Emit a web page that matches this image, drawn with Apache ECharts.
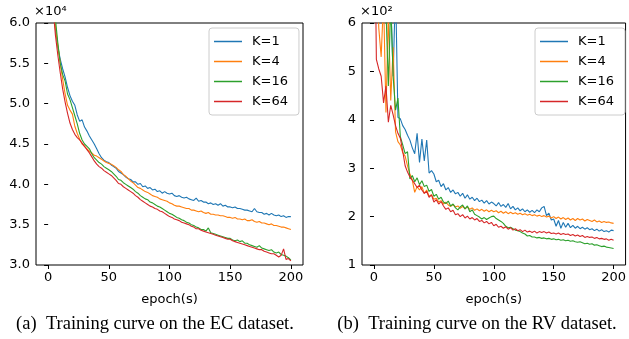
<!DOCTYPE html>
<html>
<head>
<meta charset="utf-8">
<script src="https://cdn.jsdelivr.net/npm/echarts@6/dist/echarts.min.js"></script>
<style>
  html, body { margin: 0; padding: 0; background: #fff; }
  #chart { width: 629px; height: 339px; }
</style>
</head>
<body>
<div id="chart"></div>
<script>
// epochs 0..200, every second epoch
const epochs = [];
for (let e = 0; e <= 200; e += 2) epochs.push(e);

const seriesNames = ['K=1', 'K=4', 'K=16', 'K=64'];
const xTicks = [0, 50, 100, 150, 200];

// (a) EC dataset, units of 1e4
const ecK1 = [
  7.6, 6.8, 6.25, 5.92, 5.70, 5.55, 5.43, 5.33, 5.20, 5.10,
  5.03, 4.98, 4.86, 4.78, 4.80, 4.71, 4.66, 4.60, 4.55, 4.50,
  4.44, 4.38, 4.33, 4.30, 4.28, 4.27, 4.24, 4.22, 4.20, 4.16,
  4.14, 4.12, 4.09, 4.07, 4.06, 4.03, 4.03, 4.00, 4.01, 3.97,
  3.98, 3.95, 3.96, 3.93, 3.94, 3.91, 3.92, 3.89, 3.91, 3.89,
  3.88, 3.89, 3.86, 3.85, 3.86, 3.84, 3.83, 3.84, 3.82, 3.81,
  3.80, 3.83, 3.79, 3.80, 3.78, 3.78, 3.76, 3.77, 3.75, 3.76,
  3.74, 3.76, 3.73, 3.74, 3.72, 3.72, 3.71, 3.72, 3.70, 3.70,
  3.69, 3.68, 3.68, 3.67, 3.66, 3.70, 3.66, 3.65, 3.65, 3.63,
  3.64, 3.62, 3.64, 3.62, 3.61, 3.62, 3.60, 3.61, 3.59, 3.60,
  3.60
];
const ecK4 = [
  7.7, 6.9, 6.3, 5.95, 5.72, 5.50, 5.30, 5.12, 4.98, 4.92,
  4.87, 4.72, 4.63, 4.56, 4.50, 4.47, 4.44, 4.41, 4.39, 4.36,
  4.35, 4.33, 4.31, 4.29, 4.27, 4.26, 4.25, 4.23, 4.21, 4.18,
  4.16, 4.12, 4.10, 4.07, 4.04, 4.02, 3.99, 3.96, 3.95, 3.93,
  3.91, 3.90, 3.88, 3.86, 3.85, 3.84, 3.82, 3.81, 3.80, 3.79,
  3.77, 3.76, 3.74, 3.73, 3.73, 3.72, 3.71, 3.70, 3.70, 3.68,
  3.68, 3.67, 3.66, 3.67, 3.65, 3.64, 3.65, 3.63, 3.63, 3.62,
  3.62, 3.61, 3.61, 3.60, 3.59, 3.59, 3.58, 3.59, 3.57, 3.57,
  3.56, 3.57, 3.55, 3.55, 3.56, 3.54, 3.53, 3.54, 3.52, 3.52,
  3.51, 3.50, 3.51, 3.49, 3.49, 3.48, 3.47, 3.47, 3.46, 3.45,
  3.44
];
const ecK16 = [
  7.8, 7.0, 6.4, 6.05, 5.75, 5.50, 5.36, 5.28, 5.12, 5.05,
  4.95, 4.85, 4.75, 4.63, 4.55, 4.50, 4.47, 4.44, 4.38, 4.33,
  4.30, 4.27, 4.25, 4.22, 4.20, 4.18, 4.16, 4.13, 4.10, 4.06,
  4.05, 4.02, 4.00, 3.98, 3.96, 3.94, 3.91, 3.89, 3.86, 3.84,
  3.82, 3.81, 3.78, 3.77, 3.75, 3.73, 3.72, 3.70, 3.68, 3.66,
  3.64, 3.63, 3.61, 3.59, 3.58, 3.56, 3.55, 3.53, 3.52, 3.50,
  3.49, 3.47, 3.46, 3.44, 3.44, 3.42, 3.46, 3.40, 3.39, 3.38,
  3.37, 3.36, 3.35, 3.34, 3.33, 3.33, 3.31, 3.30, 3.31, 3.29,
  3.30, 3.27, 3.27, 3.25, 3.24, 3.23, 3.22, 3.24, 3.21, 3.20,
  3.19, 3.18, 3.19, 3.16, 3.15, 3.16, 3.13, 3.12, 3.11, 3.09,
  3.06
];
const ecK64 = [
  7.5, 6.7, 6.2, 5.85, 5.60, 5.38, 5.18, 5.02, 4.88, 4.76,
  4.68, 4.62, 4.58, 4.55, 4.51, 4.47, 4.43, 4.39, 4.34, 4.29,
  4.25, 4.22, 4.20, 4.17, 4.15, 4.13, 4.11, 4.08, 4.05, 4.01,
  4.00, 3.97, 3.95, 3.93, 3.91, 3.89, 3.86, 3.84, 3.81, 3.79,
  3.77, 3.75, 3.73, 3.72, 3.70, 3.69, 3.67, 3.66, 3.64, 3.62,
  3.60, 3.59, 3.57, 3.56, 3.55, 3.53, 3.52, 3.51, 3.50, 3.48,
  3.47, 3.45, 3.45, 3.43, 3.42, 3.41, 3.40, 3.39, 3.38, 3.37,
  3.36, 3.35, 3.34, 3.33, 3.32, 3.32, 3.30, 3.29, 3.28, 3.27,
  3.26, 3.25, 3.24, 3.23, 3.22, 3.21, 3.20, 3.19, 3.19, 3.17,
  3.16, 3.15, 3.14, 3.14, 3.12, 3.10, 3.12, 3.20, 3.07, 3.08,
  3.05
];

// (b) RV dataset, units of 1e2
const rvK1 = [
  9.0, 8.6, 8.0, 7.8, 7.5, 7.0, 6.8, 6.5, 4.9, 6.8,
  4.05, 4.02, 3.88, 3.80, 3.68, 3.58, 3.42, 3.30, 3.72, 3.12,
  3.60, 3.15, 3.58, 2.90, 2.95, 2.88, 2.72, 2.75, 2.62, 2.68,
  2.55, 2.60, 2.50, 2.55, 2.47, 2.50, 2.42, 2.48, 2.38, 2.45,
  2.36, 2.40, 2.33, 2.38, 2.31, 2.34, 2.28, 2.33, 2.26, 2.30,
  2.27, 2.22, 2.29, 2.21, 2.25, 2.19, 2.27, 2.16, 2.21, 2.14,
  2.18, 2.12, 2.16, 2.10, 2.14, 2.09, 2.13, 2.08, 2.14, 2.10,
  2.18, 2.21, 2.02, 2.07, 1.93, 1.95, 1.80, 1.92, 1.76, 1.88,
  1.78, 1.86, 1.77, 1.82, 1.76, 1.80, 1.75, 1.78, 1.74, 1.77,
  1.73, 1.75, 1.71, 1.74, 1.70, 1.73, 1.69, 1.71, 1.68, 1.72,
  1.71
];
const rvK4 = [
  9.5, 7.5, 5.9, 5.3, 6.5, 4.15, 6.2, 4.4, 5.5, 3.75,
  3.55, 3.48, 3.32, 3.25, 3.05, 2.88, 2.75, 2.50, 2.62, 2.55,
  2.62, 2.48, 2.55, 2.42, 2.45, 2.36, 2.38, 2.30, 2.33, 2.26,
  2.30, 2.24, 2.21, 2.25, 2.20, 2.22, 2.17, 2.21, 2.16, 2.20,
  2.15, 2.18, 2.13, 2.16, 2.12, 2.15, 2.11, 2.14, 2.10, 2.13,
  2.10, 2.12, 2.08, 2.11, 2.07, 2.10, 2.06, 2.09, 2.06, 2.08,
  2.05, 2.07, 2.04, 2.06, 2.03, 2.05, 2.02, 2.04, 2.01, 2.03,
  2.00, 2.02, 1.99, 2.01, 1.97, 2.00, 1.96, 1.99, 1.95, 1.98,
  1.94, 1.97, 1.93, 1.96, 1.92, 1.96, 1.93, 1.95, 1.91, 1.94,
  1.92, 1.90, 1.93, 1.89, 1.91, 1.88, 1.90, 1.88, 1.89, 1.87,
  1.86
];
const rvK16 = [
  9.8, 8.5, 7.8, 7.0, 6.6, 6.3, 4.7, 6.4, 4.9, 4.2,
  4.45, 3.65, 3.48, 3.30, 3.34, 2.78, 2.85, 2.72, 2.80, 2.66,
  2.74, 2.62, 2.65, 2.52, 2.56, 2.42, 2.46, 2.36, 2.40, 2.30,
  2.27, 2.32, 2.22, 2.26, 2.18, 2.14, 2.20, 2.24, 2.16, 2.22,
  2.10, 2.14, 2.05, 2.02, 1.99, 1.95, 1.98, 1.94, 1.97, 2.00,
  2.01, 1.96, 1.93, 1.90, 1.86, 1.80, 1.77, 1.78, 1.75, 1.72,
  1.71, 1.69, 1.66, 1.64, 1.60, 1.61, 1.58, 1.58, 1.56, 1.57,
  1.55, 1.56, 1.54, 1.55, 1.53, 1.54, 1.52, 1.53, 1.51, 1.52,
  1.50, 1.51, 1.49, 1.50, 1.48, 1.47, 1.48, 1.46, 1.44, 1.45,
  1.43, 1.44, 1.41, 1.42, 1.40, 1.38, 1.39, 1.37, 1.36, 1.35,
  1.34
];
const rvK64 = [
  9.5, 5.25, 5.05, 4.90, 4.35, 4.70, 3.95, 4.30, 4.10, 3.88,
  3.72, 3.62, 3.35, 3.05, 2.92, 2.82, 2.75, 2.68, 2.60, 2.65,
  2.55, 2.48, 2.52, 2.40, 2.45, 2.30, 2.35, 2.26, 2.31, 2.22,
  2.15, 2.18, 2.10, 2.13, 2.04, 2.06, 2.00, 2.04, 1.97, 2.01,
  1.95, 1.98, 1.93, 1.96, 1.90, 1.92, 1.87, 1.90, 1.85, 1.88,
  1.81, 1.84, 1.78, 1.80, 1.76, 1.79, 1.74, 1.77, 1.72, 1.75,
  1.71, 1.73, 1.69, 1.72, 1.68, 1.70, 1.67, 1.70, 1.66, 1.69,
  1.67, 1.69, 1.66, 1.68, 1.65, 1.66, 1.64, 1.66, 1.63, 1.65,
  1.63, 1.64, 1.61, 1.63, 1.60, 1.62, 1.59, 1.61, 1.57, 1.59,
  1.57, 1.58, 1.55, 1.57, 1.54, 1.55, 1.53, 1.54, 1.51, 1.53,
  1.51
];

const colors = ['#1f77b4', '#ff7f0e', '#2ca02c', '#d62728'];
const font = 'DejaVu Sans';

const pairs = (vals) => vals.map((v, i) => [epochs[i], v]);

const makeLine = (name, vals, idx, color) => ({
    name: name,
    type: 'line',
    xAxisIndex: idx,
    yAxisIndex: idx,
    data: pairs(vals),
    symbol: 'none',
    showSymbol: false,
    clip: true,
    lineStyle: {width: 1.1, color: color},
    itemStyle: {color: color}
});

const makeX = (idx) => ({
    type: 'value',
    gridIndex: idx,
    min: -10,
    max: 210,
    name: 'epoch(s)',
    nameLocation: 'middle',
    nameGap: 28,
    nameTextStyle: {fontFamily: font, fontSize: 13, color: '#000'},
    axisLine: {show: false},
    axisTick: {show: true, inside: false, length: 4, customValues: xTicks, lineStyle: {color: '#000'}},
    axisLabel: {customValues: xTicks, fontFamily: font, fontSize: 13, color: '#000', margin: 6},
    splitLine: {show: false}
});

const makeY = (idx, min, max, interval, digits) => ({
    type: 'value',
    gridIndex: idx,
    min: min,
    max: max,
    interval: interval,
    axisLine: {show: false},
    axisTick: {show: true, inside: false, length: 4, lineStyle: {color: '#000'}},
    axisLabel: {
        fontFamily: font, fontSize: 13, color: '#000', margin: 6,
        formatter: (v) => v.toFixed(digits)
    },
    splitLine: {show: false}
});

// legend: plain coloured strokes, no symbol
const makeLegend = (left) => ({
    orient: 'vertical',
    left: left,
    top: 28,
    data: seriesNames.map((n) => ({name: n, icon: 'rect'})),
    itemWidth: 28,
    itemHeight: 1.5,
    itemGap: 5,
    padding: [6, 11, 6, 5],
    backgroundColor: '#fff',
    borderColor: '#cccccc',
    borderWidth: 1,
    borderRadius: 3,
    textStyle: {fontFamily: font, fontSize: 13, lineHeight: 15, color: '#000', padding: [0, 0, 0, 5]}
});

const chart = echarts.init(document.getElementById('chart'));

chart.setOption({
    animation: false,
    backgroundColor: '#fff',
    grid: [
        {left: 36, top: 23, width: 267, height: 242, show: true, borderColor: '#000', borderWidth: 1, backgroundColor: 'transparent'},
        {left: 362, top: 23, width: 266, height: 242, show: true, borderColor: '#000', borderWidth: 1, backgroundColor: 'transparent'}
    ],
    xAxis: [makeX(0), makeX(1)],
    yAxis: [makeY(0, 3, 6, 0.5, 1), makeY(1, 1, 6, 1, 0)],
    legend: [makeLegend(209), makeLegend(535)],
    series: [
        makeLine('K=1', ecK1, 0, colors[0]),
        makeLine('K=4', ecK4, 0, colors[1]),
        makeLine('K=16', ecK16, 0, colors[2]),
        makeLine('K=64', ecK64, 0, colors[3]),
        makeLine('K=1', rvK1, 1, colors[0]),
        makeLine('K=4', rvK4, 1, colors[1]),
        makeLine('K=16', rvK16, 1, colors[2]),
        makeLine('K=64', rvK64, 1, colors[3])
    ],
    graphic: [
        {type: 'text', x: 34, y: 5, style: {text: '×10⁴', font: '13px "DejaVu Sans"', fill: '#000'}},
        {type: 'text', x: 360, y: 5, style: {text: '×10²', font: '13px "DejaVu Sans"', fill: '#000'}},
        {type: 'text', x: 155, y: 315, style: {text: '(a)  Training curve on the EC dataset.', font: '18.5px "Liberation Serif"', fill: '#000', textAlign: 'center'}},
        {type: 'text', x: 477, y: 315, style: {text: '(b)  Training curve on the RV dataset.', font: '18.5px "Liberation Serif"', fill: '#000', textAlign: 'center'}}
    ]
});
</script>
</body>
</html>
